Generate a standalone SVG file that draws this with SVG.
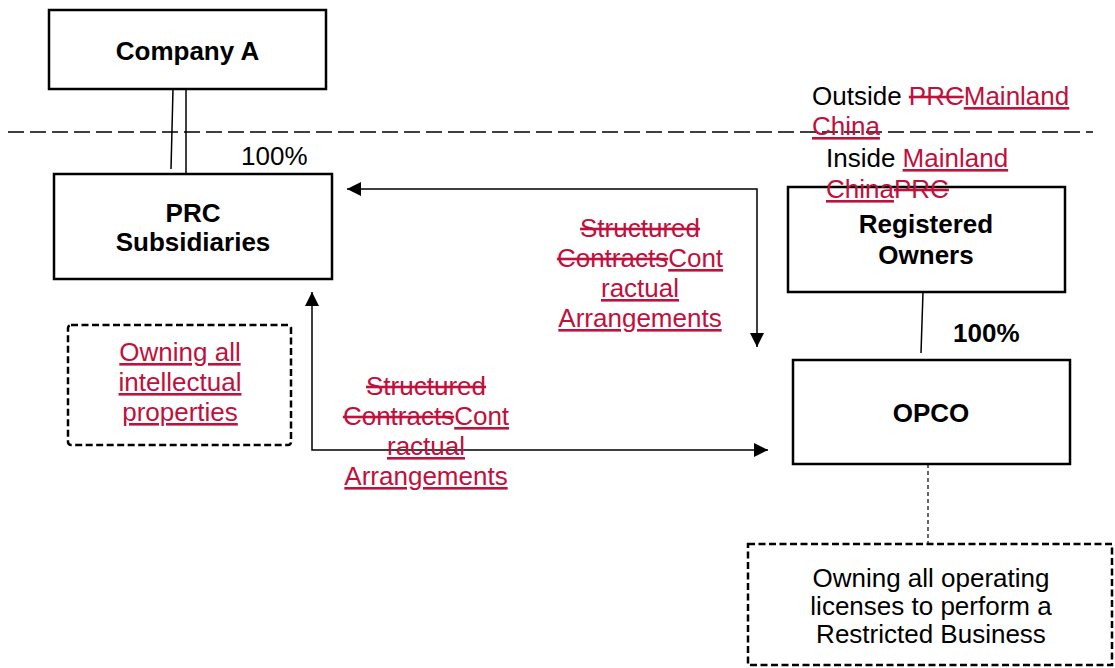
<svg xmlns="http://www.w3.org/2000/svg" width="1115" height="668" viewBox="0 0 1115 668">
<style>
text{font-family:"Liberation Sans",Arial,sans-serif;font-size:26px;fill:#000}
.b{font-weight:bold}
.m{text-anchor:middle}
.r{fill:#C0103C}
.u{text-decoration:underline}
.s{text-decoration:line-through}
.box{fill:#fff;stroke:#000;stroke-width:2.5}
.dbox{fill:#fff;stroke:#000;stroke-width:2.5;stroke-dasharray:7 3.5}
.ln{stroke:#000;stroke-width:1.5;fill:none}
</style>
<defs>
<marker id="ah" viewBox="0 0 14 14" refX="14" refY="7" markerWidth="14" markerHeight="14" markerUnits="userSpaceOnUse" orient="auto-start-reverse">
<path d="M0,0 L14,7 L0,14 Z" fill="#000"/>
</marker>
</defs>
<line x1="8" y1="132" x2="1093" y2="132" stroke="#000" stroke-width="1.5" stroke-dasharray="16 6"/>
<g id="connectors">
<line class="ln" x1="173" y1="89" x2="171" y2="169"/>
<line class="ln" x1="186" y1="89" x2="186" y2="174"/>
<line class="ln" x1="923" y1="292" x2="921" y2="353"/>
<line x1="928" y1="464" x2="928" y2="543" stroke="#000" stroke-width="1.2" stroke-dasharray="4 3"/>
<path class="ln" d="M347,189 H757 V347" marker-start="url(#ah)" marker-end="url(#ah)"/>
<path class="ln" d="M312,292 V450 H768" marker-start="url(#ah)" marker-end="url(#ah)"/>
</g>
<g id="companyA">
<rect class="box" x="49" y="10" width="277" height="79"/>
<text class="b m" x="187.5" y="60">Company A</text>
</g>
<text x="241" y="165">100%</text>
<g id="prcSub">
<rect class="box" x="54" y="174" width="278" height="105"/>
<text class="b m" x="193" y="222">PRC</text>
<text class="b m" x="193" y="251">Subsidiaries</text>
</g>
<g id="regOwners">
<rect class="box" x="788" y="187" width="277" height="105"/>
<text class="b m" x="926" y="233">Registered</text>
<text class="b m" x="926" y="264">Owners</text>
</g>
<text class="b" x="953" y="342">100%</text>
<g id="opco">
<rect class="box" x="793" y="360" width="277" height="104"/>
<text class="b m" x="931" y="422">OPCO</text>
</g>
<g id="labels">
<text x="812" y="105">Outside <tspan class="r s">PRC</tspan><tspan class="r u">Mainland</tspan></text>
<text x="812" y="135"><tspan class="r u">China</tspan></text>
<text x="826" y="167">Inside <tspan class="r u">Mainland</tspan></text>
<text x="826" y="198"><tspan class="r u">China</tspan><tspan class="r s">PRC</tspan></text>
<text class="m" x="640" y="237"><tspan class="r s">Structured</tspan></text>
<text class="m" x="640" y="267"><tspan class="r s">Contracts</tspan><tspan class="r u">Cont</tspan></text>
<text class="m" x="640" y="297"><tspan class="r u">ractual</tspan></text>
<text class="m" x="640" y="327"><tspan class="r u">Arrangements</tspan></text>
<text class="m" x="426" y="395"><tspan class="r s">Structured</tspan></text>
<text class="m" x="426" y="425"><tspan class="r s">Contracts</tspan><tspan class="r u">Cont</tspan></text>
<text class="m" x="426" y="455"><tspan class="r u">ractual</tspan></text>
<text class="m" x="426" y="485"><tspan class="r u">Arrangements</tspan></text>
</g>
<g id="ipBox">
<rect class="dbox" x="68" y="325" width="223" height="120" rx="3"/>
<text class="m" x="180" y="361"><tspan class="r u">Owning all</tspan></text>
<text class="m" x="180" y="391"><tspan class="r u">intellectual</tspan></text>
<text class="m" x="180" y="421"><tspan class="r u">properties</tspan></text>
</g>
<g id="licBox">
<rect class="dbox" x="748" y="544" width="364" height="121"/>
<text class="m" x="931" y="587">Owning all operating</text>
<text class="m" x="931" y="615">licenses to perform a</text>
<text class="m" x="931" y="643">Restricted Business</text>
</g>
</svg>
